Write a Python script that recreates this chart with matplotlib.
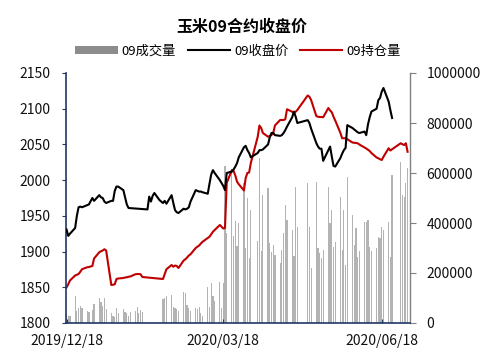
import numpy as np
import pandas as pd
import matplotlib
matplotlib.use('Agg')
import matplotlib.pyplot as plt
from matplotlib.patches import Patch
from matplotlib.lines import Line2D

plt.rcParams['font.family'] = ['Noto Sans CJK SC', 'DejaVu Sans']

# ---------------- data ----------------
title = '玉米09合约收盘价'
legend_labels = ['09成交量', '09收盘价', '09持仓量']

price_holidays = ['2020-01-01', '2020-01-24', '2020-01-27', '2020-01-28', '2020-01-29',
                  '2020-01-30', '2020-01-31', '2020-04-06', '2020-05-01', '2020-05-04',
                  '2020-05-05']
price_dates = pd.bdate_range('2019-12-18', '2020-06-24')
price_dates = price_dates[~price_dates.isin(pd.to_datetime(price_holidays))]

close_price = [
    # Dec
    1931, 1922, 1925, 1933, 1950, 1962, 1963, 1962, 1965, 1966,
    # Jan
    1975, 1971, 1979, 1976, 1975, 1970, 1968, 1971, 1971, 1985, 1991, 1991, 1986, 1976, 1966, 1961,
    # Feb
    1959, 1977, 1970, 1978, 1982, 1972, 1970, 1968, 1971, 1967, 1979, 1968, 1958, 1955, 1954,
    1960, 1959, 1960, 1962, 1970,
    # Mar
    1986, 1985, 1984, 1984, 1983, 1981, 1995, 2008, 2014, 2010, 2000, 1996, 1992, 1986, 2010,
    2012, 2015, 2019, 2024, 2032, 2046, 2048,
    # Apr
    2042, 2038, 2032, 2038, 2042, 2042, 2043, 2050, 2060, 2066, 2066, 2063, 2062, 2063, 2066,
    2070, 2075, 2088, 2096, 2089, 2080,
    # May
    2084, 2080, 2072, 2052, 2047, 2044, 2044, 2027, 2042, 2047, 2033, 2020, 2019, 2031, 2037,
    2042, 2045, 2077,
    # Jun
    2073, 2071, 2069, 2067, 2066, 2068, 2063, 2078, 2088, 2096, 2100, 2112, 2115, 2124, 2129,
    2110, 2098, 2087,
]

oi_gaps = ['2020-01-01', '2020-02-03', '2020-02-04', '2020-02-05', '2020-02-06', '2020-02-07',
           '2020-02-10', '2020-02-11', '2020-04-06', '2020-05-01', '2020-05-04', '2020-05-05',
           '2020-06-25', '2020-06-26']
oi_dates = pd.bdate_range('2019-12-18', '2020-07-03')
oi_dates = oi_dates[~oi_dates.isin(pd.to_datetime(oi_gaps))]

open_interest_k = [
    # Dec
    142, 155, 170, 190, 193, 196, 205, 215, 223, 224,
    # Jan
    228, 258, 283, 287, 290, 295, 290, 152, 153, 155, 176, 178, 180, 182, 183, 185, 186, 195,
    196, 196, 195, 184,
    # Feb
    176, 195, 215, 232, 225, 230, 228, 220, 250, 255, 262, 270, 275,
    # Mar
    300, 305, 310, 318, 325, 340, 345, 355, 365, 372, 392, 385, 378, 380, 560, 612, 608, 590,
    565, 555, 530, 580,
    # Apr
    600, 602, 640, 745, 790, 780, 760, 745, 748, 752, 760, 790, 812, 812, 812, 815, 855, 845,
    840, 845, 852,
    # May
    910, 905, 892, 828, 825, 824, 824, 823, 860, 850, 843, 825, 810, 760, 739, 739, 739, 735,
    # Jun
    722, 721, 720, 719, 714, 702, 698, 693, 688, 680, 662, 659, 655, 652, 665, 699, 690, 695,
    719, 715,
    # Jul
    712, 719, 685,
]

volume_k = [
    # Dec
    35, 30, 28, 110, 50, 62, 70, 60, 50, 45,
    # Jan
    52, 75, 100, 85, 70, 100, 55, 40, 30, 25, 60, 40, 56, 45, 40, 30, 45, 50, 65, 40, 52, 45,
    # Feb
    95, 99, 108, 112, 65, 60, 55, 48, 125, 120, 72, 60, 50,
    # Mar
    59, 55, 65, 40, 30, 145, 65, 159, 110, 90, 165, 60, 160, 630, 360, 600, 350, 410, 310, 400,
    560, 300,
    # Apr
    499, 260, 452, 330, 659, 290, 512, 540, 320, 285, 312, 272, 240, 292, 359, 472, 412, 372,
    270, 545, 385,
    # May
    559, 385, 219, 565, 300, 280, 260, 292, 545, 399, 452, 305, 325, 505, 292, 452, 232, 585,
    # Jun
    432, 312, 379, 265, 290, 405, 405, 412, 305, 290, 300, 345, 339, 385, 372, 405, 265, 592,
    645, 512,
    # Jul
    505, 559, 619,
]

xtick_dates = ['2019-12-18', '2020-03-18', '2020-06-18']
xtick_labels = ['2019/12/18', '2020/03/18', '2020/06/18']
left_ticks = [1800, 1850, 1900, 1950, 2000, 2050, 2100, 2150]
right_ticks = [0, 200000, 400000, 600000, 800000, 1000000]

# ---------------- figure ----------------
W, H = 484, 356
fig = plt.figure(figsize=(W / 100, H / 100), dpi=100)
ax = fig.add_axes([66 / W, 1 - 323 / H, (410 - 66) / W, (323 - 73) / H])
ax2 = ax.twinx()
ax.set_zorder(ax2.get_zorder() + 1)
ax.patch.set_visible(False)

t0 = pd.Timestamp('2019-12-18')
xp = (price_dates - t0).days.values
xo = (oi_dates - t0).days.values

vol = np.array(volume_k) * 1000
oi = np.array(open_interest_k) * 1000

bar_color = '#b3b3b3'
red = '#c00000'
navy = '#1f3864'

ax2.bar(xo, vol, width=0.7, color=bar_color, linewidth=0, zorder=1)
ax2.plot(xo, oi, color=red, lw=1.5, zorder=3, solid_joinstyle='round')
ax.plot(xp, close_price, color='black', lw=1.5, zorder=4, solid_joinstyle='round')

ax.set_xlim(-0.3, 199.4)
ax.set_ylim(1800, 2150)
ax2.set_ylim(0, 1000000)

ax.set_yticks(left_ticks)
ax.set_yticklabels([str(v) for v in left_ticks])
ax2.set_yticks(right_ticks)
ax2.set_yticklabels([str(v) for v in right_ticks])
xt = [(pd.Timestamp(d) - t0).days for d in xtick_dates]
ax.set_xticks(xt)
ax.set_xticklabels(xtick_labels)

for a in (ax, ax2):
    a.spines['top'].set_visible(False)
ax.spines['right'].set_visible(False)
ax2.spines['left'].set_visible(False)
ax2.spines['bottom'].set_visible(False)
ax.spines['left'].set_color(navy)
ax.spines['bottom'].set_color(navy)
ax.spines['left'].set_linewidth(1.2)
ax.spines['bottom'].set_linewidth(1.2)
ax2.spines['right'].set_color('#808080')
ax2.spines['right'].set_linewidth(1.0)

ax.tick_params(axis='y', direction='out', length=3, color=navy, labelsize=10, pad=8,
               labelcolor='#111111')
ax.tick_params(axis='x', direction='in', length=3, color=navy, labelsize=10, pad=8,
               labelcolor='#111111')
ax2.tick_params(axis='y', direction='out', length=4, color='#808080', labelsize=10, pad=8,
                labelcolor='#111111')

fig.text(0.5, 1 - 27 / H, title, ha='center', va='center', fontsize=11.5, fontweight='bold')

handles = [Patch(facecolor='#8c8c8c', edgecolor='none'),
           Line2D([], [], color='black', lw=1.5),
           Line2D([], [], color=red, lw=1.5)]
fig.legend(handles, legend_labels, loc='center', bbox_to_anchor=(238 / W, 1 - 51 / H),
           ncol=3, frameon=False, fontsize=9.5, handlelength=3.2, handleheight=0.6,
           handletextpad=0.3, columnspacing=0.9, borderpad=0)

fig.savefig('out.png', dpi=100)
